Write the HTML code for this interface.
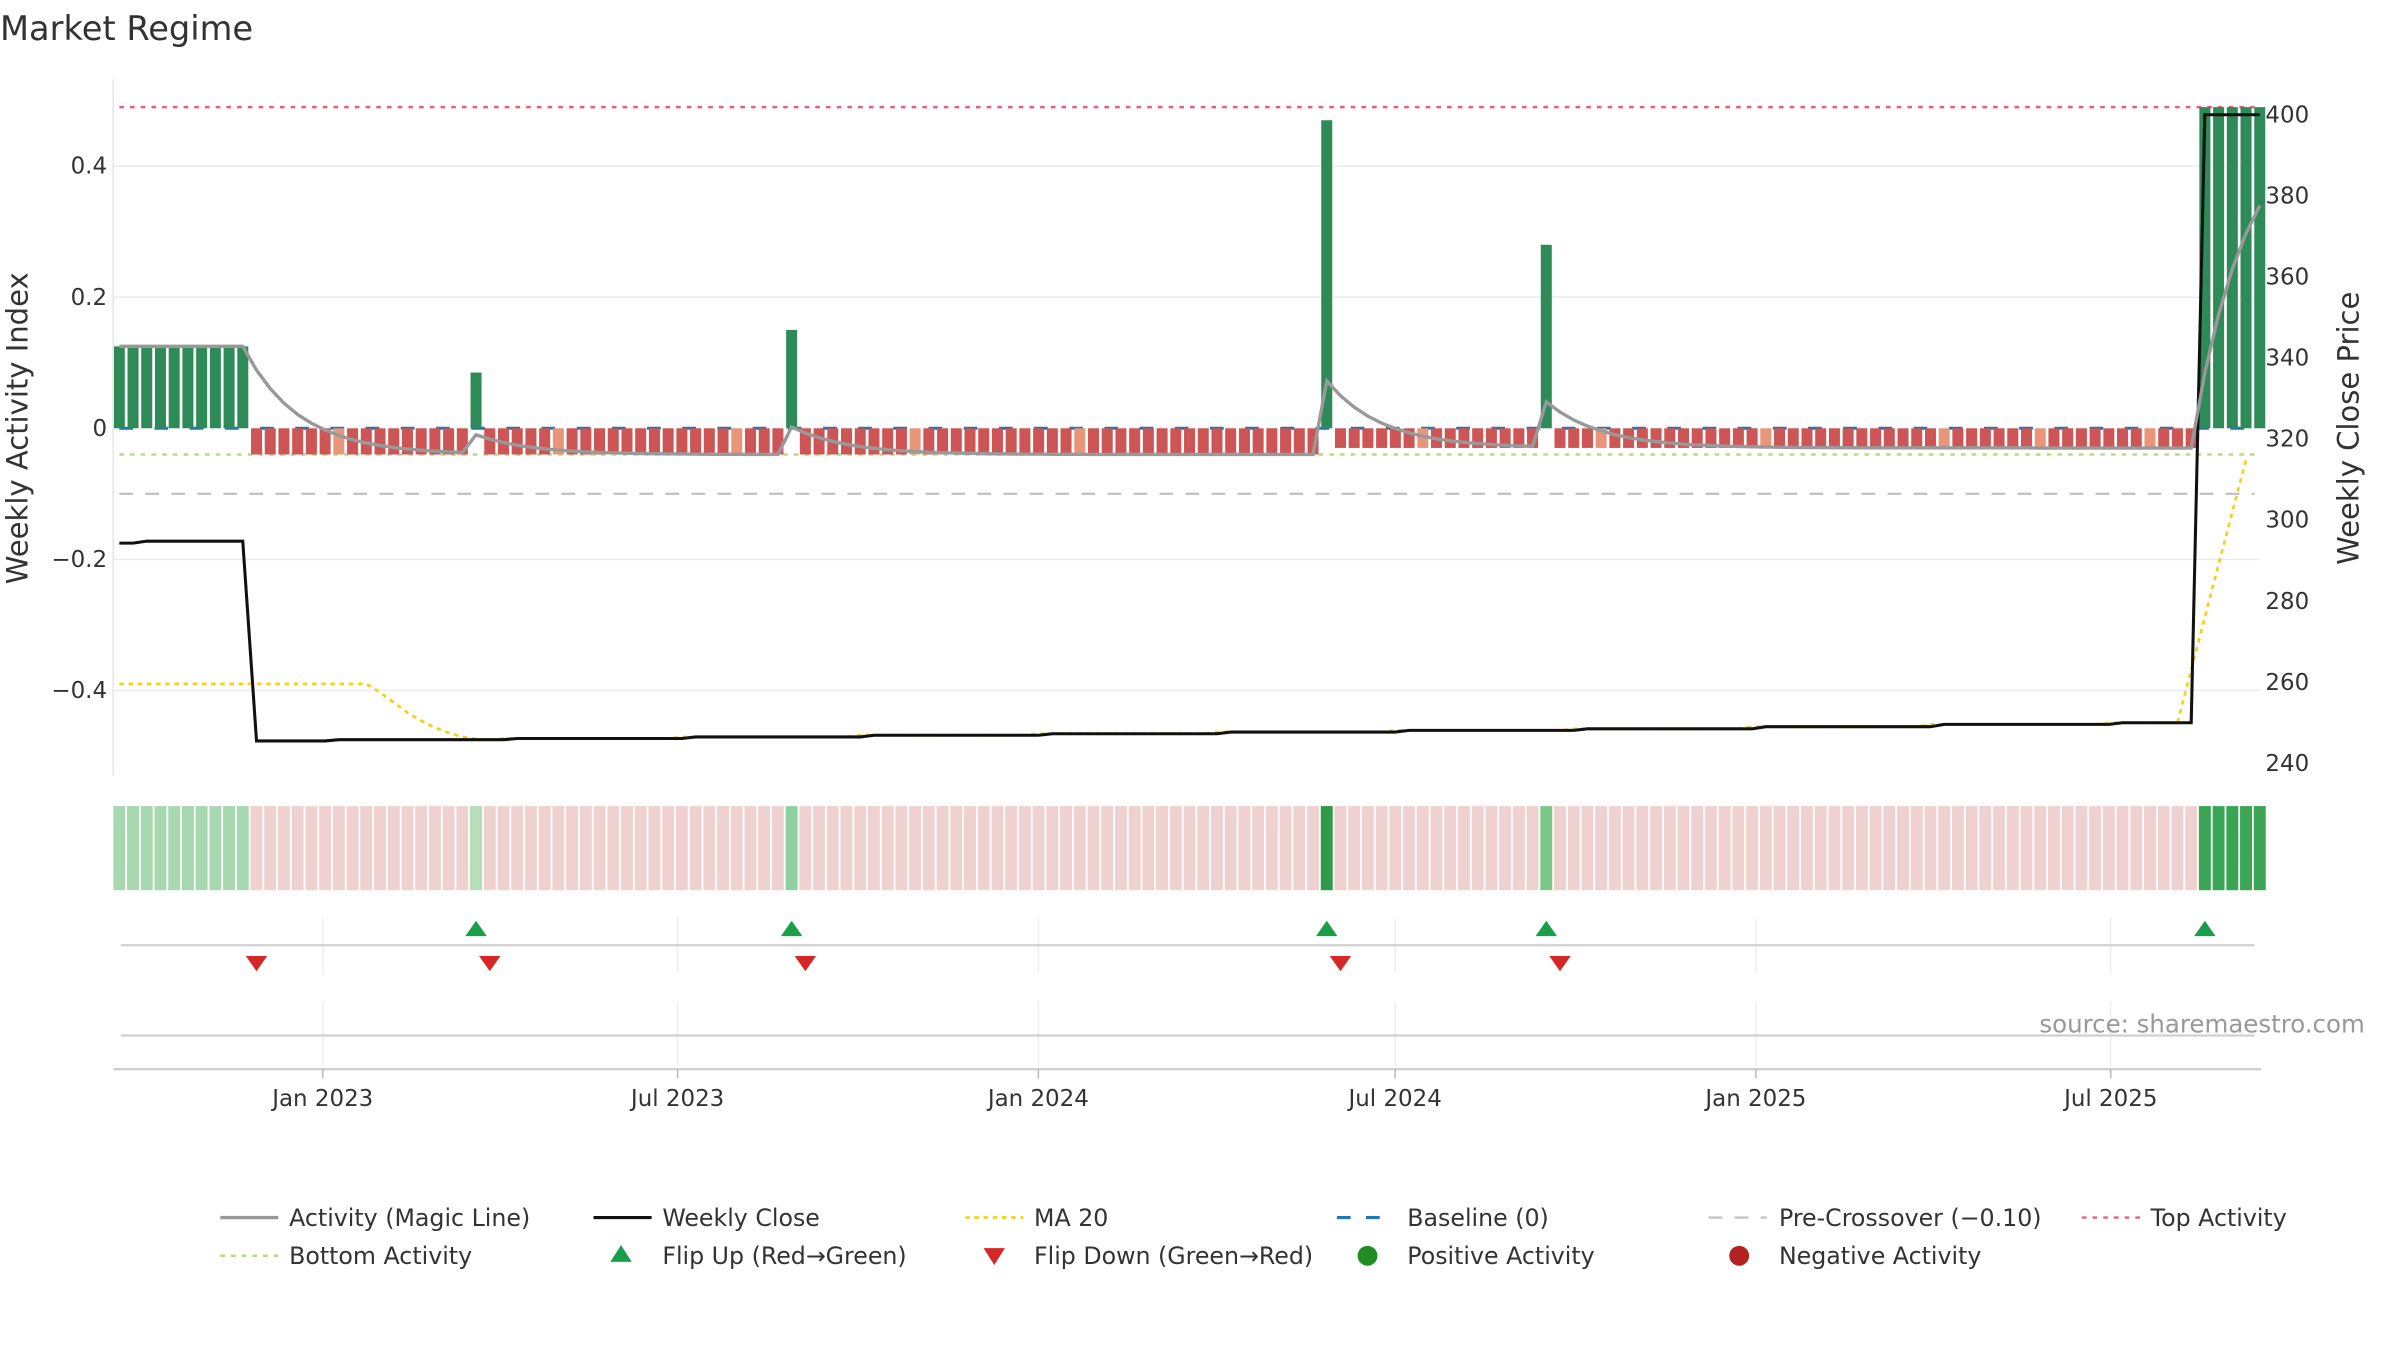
<!DOCTYPE html>
<html><head><meta charset="utf-8"><style>
html,body{margin:0;padding:0;background:#fff;}
svg{display:block;font-family:"DejaVu Sans","Liberation Sans",sans-serif;}
</style></head><body>
<svg id="chart" width="2400" height="1350" viewBox="0 0 1569 882.6" preserveAspectRatio="none" xmlns="http://www.w3.org/2000/svg">
<text x="0" y="26" font-size="22" fill="#333">Market Regime</text>
<g id="grid"></g><g id="refs"></g><g id="bars"></g><g id="lines"></g><g id="strip"></g><g id="flips"></g><g id="axes"></g>
<text transform="translate(18,280) rotate(-90)" text-anchor="middle" font-size="19" fill="#333">Weekly Activity Index</text>
<text transform="translate(1542,280) rotate(-90)" text-anchor="middle" font-size="19" fill="#333">Weekly Close Price</text>
<text x="1546" y="675" text-anchor="end" font-size="16" fill="#999">source: sharemaestro.com</text>
<g id="legend" font-size="15.5" fill="#333"></g>
</svg>
<script>
// ---- data ----
const activitySegments = [[0.125,10],[-0.04,16],[0.085,1],[-0.04,22],[0.15,1],[-0.04,38],[0.47,1],[-0.03,15],[0.28,1],[-0.03,47],[0.49,5]];
const salmonWeeks = [16,32,45,58,70,95,108,120,133,140,148];
const closeSegments = [[294.3,2],[294.8,8],[245.5,6],[245.8,13],[246.1,13],[246.5,13],[246.9,13],[247.3,13],[247.7,13],[248.1,13],[248.5,13],[249.0,13],[249.6,13],[250,6],[400,5]];
const ma20Segments = [[259.6,19],[257.5,1],[255,1],[252.5,1],[250.5,1],[248.8,1],[247.5,1],[246.5,1],[246,1],[245.8,1],[246.1,13],[246.5,13],[246.9,13],[247.3,13],[247.7,13],[248.1,13],[248.5,13],[249.0,13],[249.6,13],[250,6],[263,1],[276,1],[289,1],[302,1],[315,1]];
const leftTicks = [0.4,0.2,0,-0.2,-0.4];
const leftTickLabels = ["0.4","0.2","0","\u22120.2","\u22120.4"];
const rightTicks = [240,260,280,300,320,340,360,380,400];
const dateTicks = ["2023-01-01","2023-07-01","2024-01-01","2024-07-01","2025-01-01","2025-07-01"];
const dateTickLabels = ["Jan 2023","Jul 2023","Jan 2024","Jul 2024","Jan 2025","Jul 2025"];
const topActivity = 0.49, bottomActivity = -0.04, preCross = -0.10;

function expand(s){const o=[];s.forEach(([v,n])=>{for(let k=0;k<n;k++)o.push(v);});return o;}
const act = expand(activitySegments), close = expand(closeSegments), ma20 = expand(ma20Segments);
const N = act.length;
const magic=[]; {let m=act[0]; for(let i=0;i<N;i++){m=m+0.22*(act[i]-m); if(i===0)m=act[0]; magic.push(m);} }

// ---- scales ----
const x0=78, step=8.97;
const xW = i => x0 + i*step;
const yL = v => 280 - v*428.5;
const yR = p => 287 - (p-320)*2.65;
const t0 = Date.UTC(2023,0,1);
const xD = s => { const d=new Date(s+"T00:00:00Z"); return 211 + (d-t0)/86400000*1.2817; };
const NS="http://www.w3.org/2000/svg";
function mk(tag,attrs,parent){const e=document.createElementNS(NS,tag);for(const k in attrs)e.setAttribute(k,attrs[k]);document.getElementById(parent)?document.getElementById(parent).appendChild(e):parent.appendChild(e);return e;}

// grid
leftTicks.forEach((v,k)=>{
  if(v!==0){const g=mk('line',{x1:74,x2:1478,y1:yL(v),y2:yL(v),stroke:'#ececec','stroke-width':1},'grid');
   }
  const t=mk('text',{x:70,y:yL(v)+5,'text-anchor':'end','font-size':15,fill:'#333'},'axes'); t.textContent=leftTickLabels[k];
   
});
rightTicks.forEach(p=>{
  const t=mk('text',{x:1481,y:yR(p)+5,'font-size':15,fill:'#333'},'axes'); t.textContent=p;
   
});
{const a=mk('line',{x1:74,x2:74,y1:52,y2:507,stroke:'#e4e4ec'},'axes');
 }

// reference lines
function ref(v,color,dash,name,w){const l=mk('line',{x1:78,x2:1474,y1:yL(v),y2:yL(v),stroke:color,'stroke-width':w||1.6,'stroke-dasharray':dash},'refs');
 }
ref(topActivity,'#e0607e','3 4','top-activity-line');
ref(bottomActivity,'#b5de7a','3 4','bottom-activity-line');
ref(preCross,'#c4c4c4','9 8','pre-crossover-line');

// bars
for(let i=0;i<N;i++){
  const v=act[i]; const y=Math.min(yL(0),yL(v)); const h=Math.abs(yL(v)-yL(0));
  let c = v>0 ? '#2e8b57' : (salmonWeeks.includes(i)?'#e8957a':'#cd5555');
  const r=mk('rect',{x:xW(i)-3.6,y:y,width:7.2,height:h,fill:c},'bars');
  
  
}
ref(0,'#1f77b4','9 14','baseline-zero',2);

// lines
function path(vals,sc,attrs,name){let d='';vals.forEach((v,i)=>{d+=(i?'L':'M')+xW(i).toFixed(1)+','+sc(v).toFixed(1);});
const p=mk('path',Object.assign({d:d,fill:'none'},attrs),'lines');  }
path(ma20,yR,{stroke:'#f2d21b','stroke-width':1.8,'stroke-dasharray':'3 3'},'ma20-line');
path(close,yR,{stroke:'#111','stroke-width':2},'weekly-close-line');
path(magic,yL,{stroke:'#999','stroke-width':2.2},'magic-line');

// regime strip
for(let i=0;i<N;i++){
  const v=act[i]; let c='#efd2cf';
  if(v>0.45) c=(i>150?'#3aa655':'#2e9a4a'); else if(v>0.2) c='#7cc88a'; else if(v>0.12) c='#a8d8b0'; else if(v>0.1) c='#96d3a3'; else if(v>0) c='#b5deb9';
  if(v>0.14&&v<0.2) c='#8fd0a0';
  const r=mk('rect',{x:xW(i)-3.9,y:527,width:7.8,height:55,fill:c},'strip');
   
}

// flip panels
dateTicks.forEach((s,k)=>{
  const x=xD(s);
  [[600,636],[655,697]].forEach(([a,b])=>{const g=mk('line',{x1:x,x2:x,y1:a,y2:b,stroke:'#eee'},'flips');
   });
  const tk=mk('line',{x1:x,x2:x,y1:699,y2:705,stroke:'#bbb'},'axes');  
  const t=mk('text',{x:x,y:723,'text-anchor':'middle','font-size':15,fill:'#333'},'axes'); t.textContent=dateTickLabels[k];
   
});
[[79,1474,618,'flip-axis-line'],[79,1474,677,'empty-panel-line'],[74,1478,699,'x-axis-line']].forEach(([a,b,y,n])=>{
  const l=mk('line',{x1:a,x2:b,y1:y,y2:y,stroke:'#d0d0d0','stroke-width':1.5},'flips');  });
for(let i=1;i<N;i++){
  const x=xW(i);
  if(act[i]>0&&act[i-1]<=0){const p=mk('path',{d:`M${x-7},${612}L${x+7},${612}L${x},${602}Z`,fill:'#1a9e4a'},'flips');
     }
  if(act[i]<=0&&act[i-1]>0){const p=mk('path',{d:`M${x-7},${625}L${x+7},${625}L${x},${635}Z`,fill:'#d62728'},'flips');
     }
}

// legend
const L=document.getElementById('legend');
function ltext(x,y,s,name){const t=mk('text',{x:x,y:y+5.5},L); t.textContent=s;  }
function lline(x,y,c,dash,w,name){const l=mk('line',{x1:x,x2:x+38,y1:y,y2:y,stroke:c,'stroke-width':w,'stroke-dasharray':dash||'none'},L);
   }
lline(144,796,'#999','',2.2,'legend-magic-swatch'); ltext(189,796,'Activity (Magic Line)','legend-magic-line');
lline(388,796,'#111','',2,'legend-close-swatch'); ltext(433,796,'Weekly Close','legend-weekly-close');
lline(631,796,'#f2d21b','3 3',1.8,'legend-ma-swatch'); ltext(676,796,'MA 20','legend-ma20');
lline(874,796,'#1f77b4','9 10',2,'legend-baseline-swatch'); ltext(920,796,'Baseline (0)','legend-baseline');
lline(1117,796,'#c4c4c4','9 8',1.6,'legend-precross-swatch'); ltext(1163,796,'Pre-Crossover (\u22120.10)','legend-pre-crossover');
lline(1361,796,'#e0607e','3 4',1.6,'legend-top-swatch'); ltext(1406,796,'Top Activity','legend-top-activity');
lline(144,821,'#b5de7a','3 4',1.6,'legend-bottom-swatch'); ltext(189,821,'Bottom Activity','legend-bottom-activity');
{const p=mk('path',{d:'M399,825L413,825L406,814Z',fill:'#1a9e4a'},L);  }
ltext(433,821,'Flip Up (Red\u2192Green)','legend-flip-up');
{const p=mk('path',{d:'M643,816L657,816L650,827Z',fill:'#d62728'},L);  }
ltext(676,821,'Flip Down (Green\u2192Red)','legend-flip-down');
{const c=mk('circle',{cx:894,cy:821,r:6.5,fill:'#228b22'},L);  }
ltext(920,821,'Positive Activity','legend-positive-activity');
{const c=mk('circle',{cx:1137,cy:821,r:6.5,fill:'#b22222'},L);  }
ltext(1163,821,'Negative Activity','legend-negative-activity');
</script>
</body></html>
